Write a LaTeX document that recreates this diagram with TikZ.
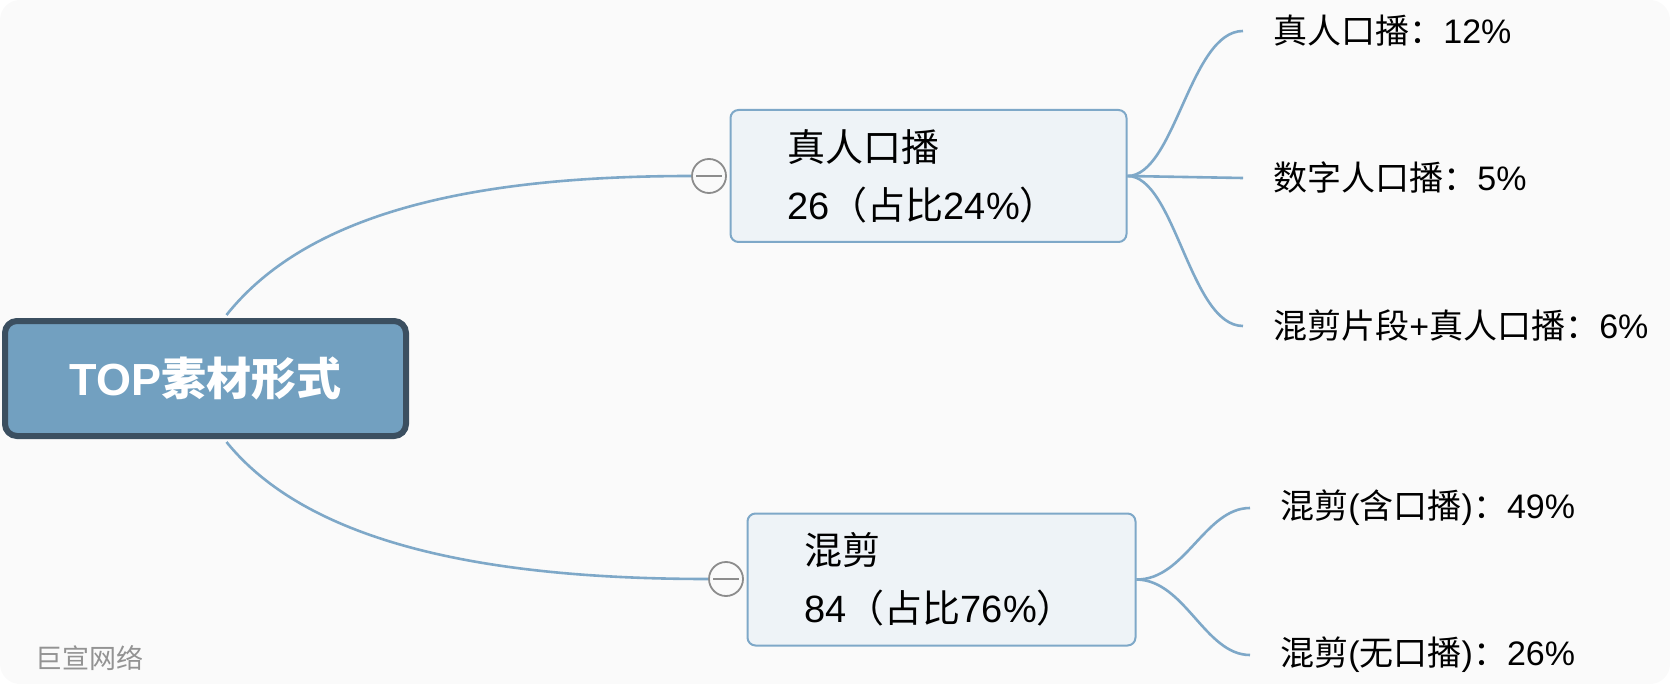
\documentclass[tikz,border=0pt]{standalone}
\usepackage{fontspec}
\setmainfont{Liberation Sans}
\newfontfamily\cjk{Noto Sans CJK SC}
\usetikzlibrary{positioning}

\definecolor{branch}{HTML}{7EA8C8}
\definecolor{rootfill}{HTML}{72A0C0}
\definecolor{rootline}{HTML}{3B4F60}
\definecolor{topicfill}{HTML}{EEF3F7}
\definecolor{bgfill}{HTML}{FAFAFA}

\begin{document}
\begin{tikzpicture}[x=0.5pt, y=-0.5pt,
    rootbox/.style={draw=rootline, fill=rootfill, line width=3pt, rounded corners=6pt,
        minimum width=200.5pt, minimum height=57.5pt, text=white,
        font=\fontsize{22.5}{26}\selectfont\bfseries},
    topic/.style={draw=branch, fill=topicfill, line width=1pt, rounded corners=4pt,
        minimum height=66pt, inner xsep=28.5pt, align=left,
        font=\fontsize{19}{29}\selectfont},
    leaf/.style={anchor=west, inner xsep=15pt, font=\fontsize{17}{20}\selectfont},
    fold/.style={circle, draw=gray!90, fill=bgfill, line width=0.9pt, minimum size=17pt,
        inner sep=0pt, path picture={\draw[gray!90, line width=0.9pt]
        ([xshift=2pt]path picture bounding box.west) -- ([xshift=-2pt]path picture bounding box.east);}},
    link/.style={draw=branch, line width=1.3pt}]
    \fill[bgfill, rounded corners=10pt] (0,0) rectangle (1670,684);
    \useasboundingbox (0,0) rectangle (1670,684);
    % main topics
    \node[rootbox] (root) at (205.5,378.5) {TOP{\cjk 素材形式}};
    \node[topic, text width=141pt] (n1) at (928.5,176) {{\cjk 真人口播}\\26{\cjk （占比}24\%{\cjk ）}};
    \node[topic, text width=137pt] (n2) at (941.5,579.5) {{\cjk 混剪}\\84{\cjk （占比}76\%{\cjk ）}};
    \node[fold] (c1) at (709,176) {};
    \node[fold] (c2) at (726,579) {};
    \draw[link] ([xshift=10.5pt, yshift=1.5pt]root.north) .. controls (310,210) and (480,176) .. (c1.west);
    \draw[link] ([xshift=10.5pt, yshift=-1.5pt]root.south) .. controls (310,545) and (490,579) .. (c2.west);
    % subtopics
    \node[leaf] (l1) at (1243,31) {{\cjk 真人口播：}12\%};
    \node[leaf] (l2) at (1243,178) {{\cjk 数字人口播：}5\%};
    \node[leaf] (l3) at (1243,326) {{\cjk 混剪片段}+{\cjk 真人口播：}6\%};
    \draw[link] (n1.east) .. controls (1175,176) and (1190,31) .. (l1.west);
    \draw[link] (n1.east) -- (l2.west);
    \draw[link] (n1.east) .. controls (1175,176) and (1190,326) .. (l3.west);
    \node[leaf] (l4) at (1250,508) {{\cjk 混剪}({\cjk 含口播}){\cjk ：}49\%};
    \node[leaf] (l5) at (1250,655) {{\cjk 混剪}({\cjk 无口播}){\cjk ：}26\%};
    \draw[link] (n2.east) .. controls (1185,580) and (1205,508) .. (l4.west);
    \draw[link] (n2.east) .. controls (1185,580) and (1205,655) .. (l5.west);
    \node[anchor=west, inner sep=0pt, text=gray!85, font=\cjk\fontsize{13.5}{16}\selectfont] (mark) at (35,658) {巨宣网络};
\end{tikzpicture}
\end{document}
